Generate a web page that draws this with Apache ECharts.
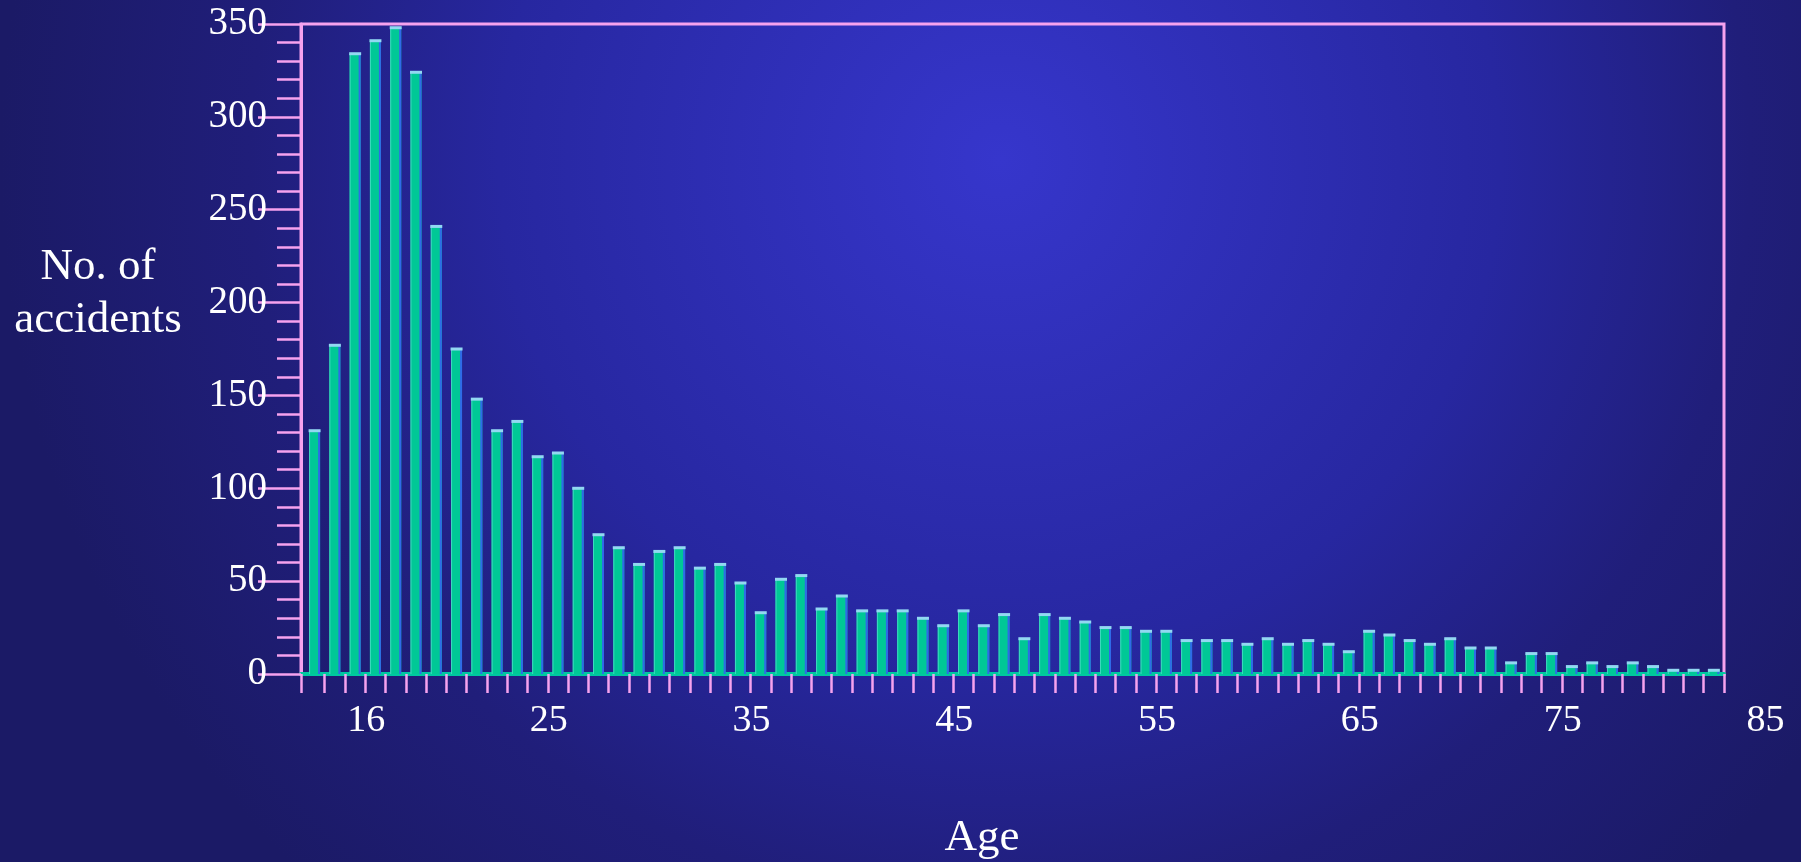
<!DOCTYPE html>
<html>
<head>
<meta charset="utf-8">
<title>Accidents by age</title>
<script src="https://cdn.jsdelivr.net/npm/echarts@6/dist/echarts.min.js"></script>
<style>
  html, body { margin: 0; padding: 0; background: #1b1a66; }
  #chart { width: 1801px; height: 862px; }
</style>
</head>
<body>
<div id="chart"></div>
<script>
// Driver age (years)
var ages = [14, 15, 16, 17, 18, 19, 20, 21, 22, 23, 24, 25, 26, 27, 28, 29, 30, 31, 32, 33,
            34, 35, 36, 37, 38, 39, 40, 41, 42, 43, 44, 45, 46, 47, 48, 49, 50, 51, 52, 53,
            54, 55, 56, 57, 58, 59, 60, 61, 62, 63, 64, 65, 66, 67, 68, 69, 70, 71, 72, 73,
            74, 75, 76, 77, 78, 79, 80, 81, 82, 83];
// Number of accidents at each age
var accidents = [131, 177, 334, 341, 348, 324, 241, 175, 148, 131, 136, 117, 119, 100, 75, 68, 59, 66, 68, 57,
                 59, 49, 33, 51, 53, 35, 42, 34, 34, 34, 30, 26, 34, 26, 32, 19, 32, 30, 28, 25,
                 25, 23, 23, 18, 18, 18, 16, 19, 16, 18, 16, 12, 23, 21, 18, 16, 19, 14, 14, 6,
                 11, 11, 4, 6, 4, 6, 4, 2, 2, 2];
// Labels printed under the age axis
var ageTickLabels = [16, 25, 35, 45, 55, 65, 75, 85];

var PINK = '#f6a2ee';
var SERIF = '"Liberation Serif", "Times New Roman", serif';

// one tick between neighbouring ages, plus the left edge
var ageTickValues = [13.33];
for (var i = 0; i < ages.length; i++) { ageTickValues.push(ages[i] + 0.5); }

var barData = ages.map(function (a, i) { return [a, accidents[i]]; });

var chart = echarts.init(document.getElementById('chart'), null, { renderer: 'canvas' });

chart.setOption({
  backgroundColor: '#1b1a66',
  animation: false,
  graphic: [
    {
      type: 'circle',
      z: -10,
      silent: true,
      shape: { cx: 1000, cy: 160, r: 1000 },
      style: {
        fill: {
          type: 'radial', x: 0.5, y: 0.5, r: 0.5,
          colorStops: [
            { offset: 0, color: '#3636cc' },
            { offset: 0.5, color: '#2727a0' },
            { offset: 0.75, color: '#201e7a' },
            { offset: 1, color: '#1b1a66' }
          ]
        }
      }
    },
    {
      type: 'text',
      x: 98, y: 294,
      style: {
        text: 'No. of\naccidents',
        fill: '#ffffff',
        font: '45px ' + SERIF,
        textAlign: 'center',
        textVerticalAlign: 'middle',
        lineHeight: 53
      }
    },
    {
      type: 'text',
      x: 982, y: 838,
      style: {
        text: 'Age',
        fill: '#ffffff',
        font: '45px ' + SERIF,
        textAlign: 'center',
        textVerticalAlign: 'middle'
      }
    }
  ],
  grid: [
    {
      left: 301, right: 77, top: 24, bottom: 188,
      show: true, borderColor: PINK, borderWidth: 3, backgroundColor: 'transparent'
    },
    { left: 312, right: 25.4, top: 24, bottom: 188 }
  ],
  xAxis: [
    {
      type: 'value', gridIndex: 0,
      min: 13.33, max: 83.5,
      axisLine: { show: true, onZero: false, lineStyle: { color: '#00c8a0', width: 4 } },
      axisTick: { show: true, customValues: ageTickValues, length: 19, lineStyle: { color: PINK, width: 2.5 } },
      axisLabel: { show: false },
      splitLine: { show: false }
    },
    {
      type: 'value', gridIndex: 1,
      min: 13.33, max: 85.5,
      axisLine: { show: false },
      axisTick: { show: false },
      splitLine: { show: false },
      axisLabel: {
        show: true, customValues: ageTickLabels,
        color: '#ffffff', fontFamily: SERIF, fontSize: 38, margin: 28
      }
    }
  ],
  yAxis: [
    {
      type: 'value', gridIndex: 0,
      min: 0, max: 350, interval: 50,
      axisLine: { show: true, lineStyle: { color: PINK, width: 3 } },
      axisTick: { show: true, length: 43, lineStyle: { color: PINK, width: 2.5 } },
      minorTick: { show: true, splitNumber: 5, length: 24, lineStyle: { color: PINK, width: 2.5 } },
      splitLine: { show: false },
      minorSplitLine: { show: false },
      axisLabel: { color: '#ffffff', fontFamily: SERIF, fontSize: 39, margin: 34 }
    },
    {
      type: 'value', gridIndex: 1, min: 0, max: 350, show: false
    }
  ],
  series: [
    {
      type: 'custom',
      xAxisIndex: 0, yAxisIndex: 0,
      data: barData,
      encode: { x: 0, y: 1 },
      renderItem: function (params, api) {
        var age = api.value(0), n = api.value(1);
        var top = api.coord([age, n]);
        var base = api.coord([age, 0]);
        var w = 11;
        var h = base[1] - top[1];
        var left = top[0] - w / 2;
        return {
          type: 'group',
          children: [
            { type: 'rect', shape: { x: left, y: top[1], width: w, height: h }, style: { fill: '#00c896' } },
            { type: 'rect', shape: { x: left + w - 2, y: top[1], width: 2, height: h }, style: { fill: '#2f6ae8' } },
            { type: 'rect', shape: { x: left, y: top[1], width: 1, height: h }, style: { fill: '#3fd8c0' } },
            { type: 'rect', shape: { x: left - 0.5, y: top[1] - 1.5, width: w + 1, height: 3 }, style: { fill: '#92d8f2' } }
          ]
        };
      }
    }
  ]
});
</script>
</body>
</html>
